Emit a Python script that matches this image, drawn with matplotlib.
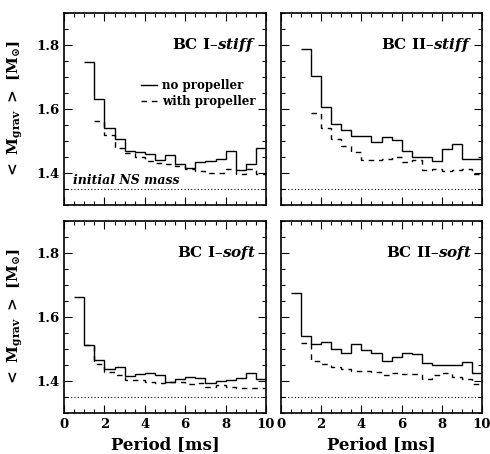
import matplotlib
matplotlib.use("Agg")
import matplotlib.pyplot as plt
from matplotlib.ticker import MultipleLocator

plt.rcParams['font.family'] = 'DejaVu Serif'
plt.rcParams['font.weight'] = 'bold'
plt.rcParams['mathtext.fontset'] = 'dejavuserif'

# bin edges of the period histograms [ms]
edges_from_1 = [1.0, 1.5, 2.0, 2.5, 3.0, 3.5, 4.0, 4.5, 5.0, 5.5, 6.0, 6.5, 7.0, 7.5, 8.0, 8.5, 9.0, 9.5, 10.0]
edges_from_05 = [0.5] + edges_from_1
edges_from_15 = edges_from_1[1:]

# BC I - stiff
bc1_stiff_noprop = [1.748, 1.631, 1.542, 1.505, 1.470, 1.466, 1.460, 1.442, 1.457, 1.429,
                    1.417, 1.433, 1.437, 1.443, 1.468, 1.410, 1.429, 1.478]
bc1_stiff_prop = [1.563, 1.519, 1.478, 1.462, 1.450, 1.438, 1.430, 1.427, 1.422,
                  1.413, 1.405, 1.399, 1.400, 1.411, 1.396, 1.414, 1.396]

# BC II - stiff
bc2_stiff_noprop = [1.788, 1.702, 1.606, 1.553, 1.533, 1.517, 1.517, 1.497, 1.511, 1.503,
                    1.468, 1.450, 1.450, 1.438, 1.475, 1.490, 1.444, 1.444]
bc2_stiff_prop = [1.586, 1.542, 1.506, 1.484, 1.466, 1.442, 1.442, 1.444, 1.450,
                  1.435, 1.440, 1.410, 1.412, 1.406, 1.408, 1.411, 1.396]

# BC I - soft
bc1_soft_noprop = [1.661, 1.514, 1.465, 1.436, 1.443, 1.415, 1.421, 1.424, 1.419, 1.398,
                   1.405, 1.412, 1.410, 1.394, 1.400, 1.403, 1.410, 1.424, 1.405]
bc1_soft_prop = [1.511, 1.452, 1.428, 1.418, 1.404, 1.403, 1.397, 1.393, 1.397, 1.396,
                 1.392, 1.394, 1.381, 1.386, 1.382, 1.378, 1.378, 1.378]

# BC II - soft
bc2_soft_noprop = [1.674, 1.540, 1.515, 1.521, 1.499, 1.488, 1.515, 1.497, 1.489, 1.464,
                   1.476, 1.488, 1.483, 1.455, 1.449, 1.449, 1.449, 1.460, 1.426]
bc2_soft_prop = [1.518, 1.462, 1.452, 1.444, 1.436, 1.432, 1.430, 1.427, 1.419, 1.424,
                 1.423, 1.423, 1.406, 1.419, 1.424, 1.413, 1.407, 1.390]

initial_ns_mass = 1.35

panels = [
    ("BC I", "stiff", edges_from_1, bc1_stiff_noprop, edges_from_15, bc1_stiff_prop),
    ("BC II", "stiff", edges_from_1, bc2_stiff_noprop, edges_from_15, bc2_stiff_prop),
    ("BC I", "soft", edges_from_05, bc1_soft_noprop, edges_from_1, bc1_soft_prop),
    ("BC II", "soft", edges_from_05, bc2_soft_noprop, edges_from_1, bc2_soft_prop),
]

W, H = 490, 454
fig = plt.figure(figsize=(W / 100, H / 100), dpi=100)

# axes rectangles in pixels: left, top, right, bottom
boxes = [(64, 13, 266, 205), (281, 13, 482, 205), (64, 221, 266, 413), (281, 221, 482, 413)]

dash = (0, (4, 3.5))

for i in range(4):
    name, eos, e_np, v_np, e_p, v_p = panels[i]
    l, t, r, b = boxes[i]
    ax = fig.add_axes([l / W, (H - b) / H, (r - l) / W, (b - t) / H])

    ax.stairs(v_np, e_np, baseline=None, color='black', lw=1.0, label='no propeller')
    ax.stairs(v_p, e_p, baseline=None, color='black', lw=1.0, ls=dash, label='with propeller')
    ax.axhline(initial_ns_mass, color='black', lw=0.8, ls=(0, (1, 2)))

    ax.set_xlim(0, 10)
    ax.set_ylim(1.3, 1.9)
    ax.xaxis.set_major_locator(MultipleLocator(2))
    ax.xaxis.set_minor_locator(MultipleLocator(0.5))
    ax.yaxis.set_major_locator(MultipleLocator(0.2))
    ax.yaxis.set_minor_locator(MultipleLocator(0.05))
    ax.tick_params(which='both', direction='in', top=True, right=True, labelsize=9.5, width=0.8)
    ax.tick_params(which='major', length=6)
    ax.tick_params(which='minor', length=3)
    for s in ax.spines.values():
        s.set_linewidth(1.2)

    ax.text(0.95, 0.835, name + '\u2013' + r'$\mathbfit{' + eos + '}$', transform=ax.transAxes,
            ha='right', va='center', fontsize=11, fontweight='bold')

    if i % 2 == 1:
        ax.tick_params(labelleft=False)
    else:
        ax.set_ylabel(r'$<\ \mathbf{M_{grav}}\ >\ [\mathbf{M_{\odot}}]$', fontsize=11, labelpad=8)
    if i < 2:
        ax.tick_params(labelbottom=False)
    else:
        ax.set_xlabel('Period [ms]', fontsize=12, fontweight='bold', labelpad=4)

    if i == 0:
        ax.text(0.045, initial_ns_mass + 0.006, 'initial NS mass', style='italic',
                fontsize=9, ha='left', va='bottom', transform=ax.get_yaxis_transform())
        ax.legend(loc='upper right', bbox_to_anchor=(0.99, 0.7), frameon=False,
                  fontsize=8.5, handlelength=1.4, handletextpad=0.4, labelspacing=0.25,
                  borderpad=0.2)

fig.savefig("out.png", dpi=100)
